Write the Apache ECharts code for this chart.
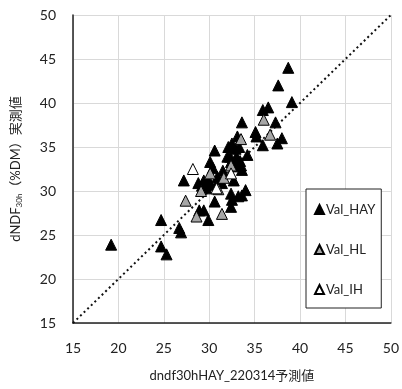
<!DOCTYPE html>
<html>
<head>
<meta charset="utf-8">
<script src="https://cdn.jsdelivr.net/npm/echarts@6/dist/echarts.min.js"></script>
<style>
  html, body { margin: 0; padding: 0; background: #fff; }
  #chart { width: 402px; height: 389px; }
</style>
</head>
<body>
<div id="chart"></div>
<script>
// axis ticks
var ticks = [15, 20, 25, 30, 35, 40, 45, 50]

var valHay = [
  [19.2, 23.9], [24.7, 26.7], [24.7, 23.7], [25.3, 22.8], [26.7, 25.8], [26.9, 25.3],
  [27.2, 31.2], [28.8, 30.9], [28.9, 27.8], [29.4, 27.8], [29.9, 26.7], [29.4, 31.2],
  [30.6, 34.6], [30.1, 33.3], [30.4, 32.6], [30.6, 28.8], [30.2, 30.7], [30.9, 31.6],
  [31.4, 30.9], [32.1, 35.0], [32.3, 33.9], [32.5, 35.4], [33.1, 36.2], [33.6, 37.8],
  [33.3, 35.0], [33.1, 33.5], [33.6, 32.4], [32.7, 31.2], [32.4, 29.7], [32.4, 28.2],
  [32.5, 29.0], [33.2, 29.4], [33.6, 29.5], [34.0, 30.1], [34.2, 34.1], [35.1, 36.7],
  [35.2, 36.2], [35.9, 35.2], [35.9, 39.2], [36.5, 39.5], [37.3, 37.8], [37.5, 35.4],
  [38.0, 36.0], [37.6, 42.0], [38.7, 44.0], [39.1, 40.1], [29.7, 30.3], [29.9, 31.1],
  [32.0, 33.9], [32.4, 33.3], [33.0, 33.9], [33.4, 33.4], [33.5, 32.9], [32.8, 32.8],
  [31.0, 31.2], [29.2, 30.6], [31.5, 32.3], [32.9, 34.8]
]
var valHl = [
  [36.0, 38.1], [36.7, 36.4], [33.5, 35.9], [27.4, 28.9], [28.6, 27.1], [31.4, 27.4],
  [29.1, 30.0], [30.1, 32.0], [31.0, 30.2], [31.6, 31.5], [32.4, 32.9]
]
var valIh = [
  [28.2, 32.5], [32.4, 32.0], [30.8, 30.3]
]
var refLine = [[15, 15], [50, 50]]

var chart = echarts.init(document.getElementById('chart'))

var tickFont = { fontFamily: 'Lato, "Noto Sans", sans-serif', fontSize: 14, color: '#222' }

chart.setOption({
  animation: false,
  backgroundColor: '#fff',
  grid: { left: 73, right: 9, top: 15, bottom: 66 },
  legend: {
    orient: 'vertical',
    left: 306,
    top: 189,
    width: 83,
    height: 119,
    padding: [14, 6, 12, 8],
    itemGap: 27,
    itemWidth: 9,
    itemHeight: 9,
    borderColor: '#222',
    borderWidth: 1,
    backgroundColor: '#fff',
    textStyle: { fontFamily: 'Lato, "Noto Sans", sans-serif', fontSize: 13, color: '#222', padding: [0, 0, 0, -3] },
    data: ['Val_HAY', 'Val_HL', 'Val_IH']
  },
  xAxis: {
    type: 'value',
    min: 15, max: 50, interval: 5,
    name: 'dndf30hHAY_220314予測値',
    nameLocation: 'middle',
    nameGap: 46,
    nameTextStyle: { fontFamily: 'Lato, "Noto Sans CJK JP", sans-serif', fontSize: 13, color: '#222' },
    axisLine: { show: true, onZero: false, lineStyle: { color: '#222', width: 1.5 } },
    axisTick: { show: false },
    axisLabel: Object.assign({ margin: 18 }, tickFont),
    splitLine: { show: true, lineStyle: { color: '#d9d9d9', width: 1 } }
  },
  yAxis: {
    type: 'value',
    min: 15, max: 50, interval: 5,
    name: '{a|dNDF}{s|30h}{a|（%DM）実測値}',
    nameLocation: 'middle',
    nameRotate: 90,
    nameGap: 50,
    nameTextStyle: {
      rich: {
        a: { fontFamily: 'Lato, "Noto Sans CJK JP", sans-serif', fontSize: 13, color: '#222' },
        s: { fontFamily: 'Lato, "Noto Sans CJK JP", sans-serif', fontSize: 8, color: '#222', verticalAlign: 'bottom', padding: [6, 0, 0, 0] }
      }
    },
    axisLine: { show: true, onZero: false, lineStyle: { color: '#222', width: 1.5 } },
    axisTick: { show: false },
    axisLabel: Object.assign({ margin: 17 }, tickFont),
    splitLine: { show: true, lineStyle: { color: '#d9d9d9', width: 1 } }
  },
  series: [
    {
      name: 'ref',
      type: 'line',
      data: refLine,
      symbol: 'none',
      silent: true,
      lineStyle: { color: '#111', width: 2, type: [2, 3] },
      z: 1
    },
    {
      name: 'Val_HAY',
      type: 'scatter',
      data: valHay,
      symbol: 'triangle',
      symbolSize: 11,
      itemStyle: { color: '#000', borderColor: '#000', borderWidth: 1, opacity: 1 },
      z: 3
    },
    {
      name: 'Val_HL',
      type: 'scatter',
      data: valHl,
      symbol: 'triangle',
      symbolSize: 11,
      itemStyle: { color: '#a6a6a6', borderColor: '#000', borderWidth: 1, opacity: 1 },
      z: 4
    },
    {
      name: 'Val_IH',
      type: 'scatter',
      data: valIh,
      symbol: 'triangle',
      symbolSize: 11,
      itemStyle: { color: '#fff', borderColor: '#000', borderWidth: 1, opacity: 1 },
      z: 5
    }
  ]
})
</script>
</body>
</html>
